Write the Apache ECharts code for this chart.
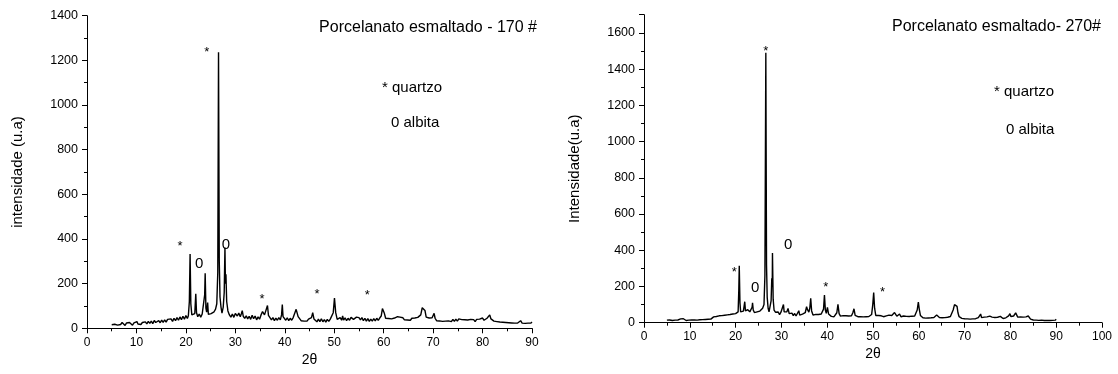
<!DOCTYPE html>
<html>
<head>
<meta charset="utf-8">
<script src="https://cdn.jsdelivr.net/npm/echarts@6/dist/echarts.min.js"></script>
<style>
html,body{margin:0;padding:0;background:#fff;}
#chart{width:1118px;height:374px;}
</style>
</head>
<body>
<div id="chart"></div>
<script>
// ---- Data ----
// Diffractogram, Porcelanato esmaltado - 170 #  : [2theta, intensity]
const pattern170 = [
[5.0,16],[5.3,24],[5.6,18],[5.9,25],[6.2,14],[6.5,22],[6.8,17],[7.1,26],[7.4,18],[7.7,13],[8.0,24],[8.3,17],[8.6,26],[8.9,19],[9.2,14],[9.5,24],[9.8,18],
[10.1,30],[10.3,19],[10.6,27],[10.9,17],[11.2,26],[11.5,19],[11.8,29],[12.1,20],[12.4,31],[12.7,22],[13.0,32],[13.3,21],[13.6,35],[13.9,26],[14.2,22],[14.5,34],[14.8,25],
[15.1,37],[15.4,27],[15.7,38],[16.0,28],[16.3,40],[16.5,48],[16.7,33],[17.0,42],[17.3,31],[17.6,45],[17.9,34],[18.2,48],[18.5,36],[18.8,51],[19.1,39],[19.4,54],[19.7,41],
[20.0,57],[20.3,44],[20.5,56],[20.7,120],[20.85,333],[21.0,110],[21.2,60],[21.5,52],[21.8,66],[22.0,155],[22.15,70],[22.4,52],[22.7,64],[23.0,50],[23.3,64],[23.6,62],
[23.8,150],[23.9,246],[24.05,90],[24.2,72],[24.4,115],[24.55,62],[24.8,54],[25.1,66],[25.4,60],[25.7,74],[26.0,86],[26.25,110],[26.45,250],[26.6,1236],[26.75,300],
[26.9,140],[27.1,95],[27.3,68],[27.55,95],[27.75,160],[27.9,362],[28.0,200],[28.1,242],[28.25,120],[28.5,78],[28.8,60],[29.1,50],[29.4,64],[29.7,49],
[30.0,66],[30.2,74],[30.4,55],[30.7,68],[31.0,52],[31.2,64],[31.4,79],[31.6,54],[31.9,44],[32.2,56],[32.5,42],[32.8,54],[33.1,40],[33.4,58],[33.7,43],[34.0,55],[34.3,38],
[34.6,51],[34.9,41],[35.2,60],[35.5,75],[35.7,80],[35.9,60],[36.2,55],[36.5,102],[36.7,58],[37.0,50],[37.3,38],[37.6,48],[37.9,34],[38.2,46],[38.5,36],[38.8,48],[39.1,38],
[39.35,60],[39.5,106],[39.65,52],[39.9,46],[40.2,36],[40.5,47],[40.8,34],[41.1,45],[41.4,36],[41.7,48],[42.0,55],[42.3,85],[42.45,91],[42.7,52],[43.0,44],[43.3,34],
[43.6,40],[43.9,32],[44.2,40],[44.5,32],[44.8,41],[45.1,36],[45.4,48],[45.65,70],[45.9,42],[46.2,38],[46.5,29],[46.8,41],[47.1,30],[47.4,43],[47.7,29],[48.0,39],
[48.3,28],[48.6,40],[48.9,31],[49.2,41],[49.5,45],[49.8,70],[50.05,135],[50.3,70],[50.6,40],[50.9,34],[51.2,48],[51.5,36],[51.7,55],[51.9,37],[52.2,47],[52.5,34],
[52.8,45],[53.1,36],[53.4,49],[53.7,55],[53.9,40],[54.2,37],[54.5,50],[54.75,58],[55.0,48],[55.3,38],[55.6,48],[55.9,34],[56.2,45],[56.5,32],[56.8,43],[57.1,31],
[57.4,41],[57.7,32],[58.0,43],[58.3,33],[58.6,45],[58.9,35],[59.2,46],[59.5,55],[59.75,88],[59.9,95],[60.1,70],[60.4,45],[60.7,38],[61.0,44],[61.3,36],[61.6,42],
[61.9,38],[62.2,46],[62.5,42],[62.8,52],[63.0,48],[63.3,50],[63.6,42],[63.9,47],[64.2,38],[64.5,46],[64.8,37],[65.1,44],[65.4,36],[65.7,45],[66.0,38],[66.3,46],
[66.6,40],[66.9,49],[67.2,50],[67.5,60],[67.8,92],[67.95,95],[68.15,93],[68.35,80],[68.6,50],[68.9,42],[69.2,46],[69.5,38],[69.8,47],[70.05,55],[70.2,67],[70.4,45],
[70.7,34],[71.0,40],[71.3,33],[71.6,39],[71.9,31],[72.2,38],[72.5,32],[72.8,40],[73.1,33],[73.4,39],[73.7,30],[74.0,40],[74.3,31],[74.6,41],[74.9,32],[75.2,42],
[75.5,34],[75.8,39],[76.1,31],[76.4,38],[76.7,30],[77.0,37],[77.3,31],[77.6,40],[77.9,32],[78.2,39],[78.5,30],[78.8,40],[79.1,33],[79.4,41],[79.7,38],[80.0,46],
[80.3,36],[80.6,40],[80.9,45],[81.2,52],[81.45,60],[81.7,42],[82.0,40],[82.3,32],[82.6,37],[82.9,30],[83.2,35],[83.5,28],[83.8,33],[84.1,27],[84.4,32],[84.7,26],
[85.0,31],[85.3,25],[85.6,30],[85.9,24],[86.2,29],[86.5,23],[86.8,30],[87.1,24],[87.4,28],[87.7,34],[88.0,23],[88.3,30],[88.6,22],[88.9,29],[89.2,23],[89.5,31],[89.8,24],[90.0,28]
];
// Diffractogram, Porcelanato esmaltado- 270#  : [2theta, intensity]
const pattern270 = [
[5.0,14],[5.3,22],[5.6,15],[5.9,21],[6.2,12],[6.5,20],[6.8,14],[7.1,23],[7.4,15],[7.7,12],[8.0,21],[8.3,13],[8.6,22],[8.9,15],[9.2,12],[9.5,21],[9.8,14],
[10.1,23],[10.4,15],[10.7,23],[11.0,15],[11.3,22],[11.6,14],[11.9,24],[12.2,16],[12.5,25],[12.8,17],[13.1,26],[13.4,18],[13.7,27],[14.0,19],[14.3,29],[14.6,20],[14.9,30],
[15.2,32],[15.5,23],[15.8,34],[16.1,26],[16.4,38],[16.55,46],[16.7,30],[17.0,39],[17.3,30],[17.6,41],[17.9,32],[18.2,43],[18.5,34],[18.8,45],[19.1,36],[19.4,48],[19.7,39],
[20.0,50],[20.3,42],[20.55,60],[20.7,180],[20.8,314],[20.95,110],[21.1,60],[21.4,52],[21.7,64],[22.0,116],[22.15,65],[22.4,55],[22.65,72],[22.9,83],[23.1,60],[23.4,64],
[23.6,85],[23.7,110],[23.85,70],[24.1,56],[24.4,48],[24.7,60],[25.0,52],[25.3,64],[25.6,62],[25.9,80],[26.2,100],[26.4,260],[26.6,1490],[26.75,320],[26.9,140],[27.1,80],
[27.3,60],[27.5,68],[27.75,120],[27.9,245],[28.0,200],[28.05,385],[28.2,130],[28.4,70],[28.7,58],[29.0,47],[29.3,59],[29.6,45],[29.9,58],[30.2,56],[30.45,100],[30.6,60],
[30.9,49],[31.2,60],[31.45,79],[31.7,50],[32.0,42],[32.3,53],[32.6,39],[32.9,51],[33.2,37],[33.5,48],[33.8,66],[34.0,42],[34.3,37],[34.6,47],[34.9,40],[35.2,55],[35.5,88],
[35.7,72],[36.0,58],[36.2,80],[36.4,134],[36.6,65],[36.9,42],[37.2,37],[37.5,46],[37.8,35],[38.1,45],[38.4,37],[38.7,48],[39.0,46],[39.2,75],[39.4,153],[39.6,70],[39.8,52],
[40.05,85],[40.3,48],[40.6,38],[40.9,35],[41.2,45],[41.5,33],[41.8,43],[42.1,55],[42.35,101],[42.6,50],[42.9,36],[43.2,31],[43.5,39],[43.8,29],[44.1,38],[44.4,28],[44.7,37],
[45.0,30],[45.3,38],[45.6,55],[45.85,77],[46.1,40],[46.4,29],[46.7,33],[47.0,27],[47.3,33],[47.6,26],[47.9,32],[48.2,27],[48.5,33],[48.8,28],[49.1,34],[49.4,31],[49.7,45],
[49.95,100],[50.15,167],[50.35,80],[50.6,40],[50.9,32],[51.2,40],[51.5,30],[51.8,38],[52.1,40],[52.3,33],[52.6,29],[52.9,38],[53.2,30],[53.5,42],[53.8,34],[54.1,40],
[54.4,45],[54.7,56],[54.95,50],[55.2,36],[55.5,44],[55.8,48],[56.1,33],[56.4,29],[56.7,37],[57.0,27],[57.3,35],[57.6,26],[57.9,34],[58.2,27],[58.5,36],[58.8,28],[59.1,37],
[59.4,40],[59.65,70],[59.9,114],[60.1,75],[60.35,40],[60.6,31],[60.9,27],[61.2,36],[61.5,25],[61.8,34],[62.1,26],[62.4,35],[62.7,27],[63.0,37],[63.3,29],[63.6,40],[63.9,42],
[64.2,32],[64.5,29],[64.8,38],[65.1,27],[65.4,36],[65.7,28],[66.0,37],[66.3,30],[66.6,40],[66.9,34],[67.2,45],[67.5,70],[67.8,100],[67.95,107],[68.15,104],[68.35,90],
[68.55,55],[68.8,33],[69.1,27],[69.4,24],[69.7,31],[70.0,22],[70.3,30],[70.6,21],[70.9,29],[71.2,20],[71.5,28],[71.8,21],[72.1,30],[72.4,22],[72.7,29],[73.0,28],[73.3,35],
[73.5,48],[73.7,28],[74.0,24],[74.3,31],[74.6,23],[74.9,32],[75.2,30],[75.5,36],[75.8,44],[76.0,31],[76.3,25],[76.6,29],[76.9,24],[77.2,30],[77.5,26],[77.8,35],[78.1,25],
[78.4,23],[78.7,30],[79.0,27],[79.3,35],[79.6,38],[79.9,50],[80.1,34],[80.4,28],[80.7,37],[80.9,42],[81.15,54],[81.35,45],[81.6,31],[81.9,26],[82.2,32],[82.5,24],[82.8,31],
[83.1,25],[83.4,32],[83.7,31],[83.9,37],[84.1,26],[84.4,20],[84.7,23],[85.0,15],[85.3,22],[85.6,14],[85.9,21],[86.2,13],[86.5,22],[86.8,14],[87.1,21],[87.4,12],[87.7,20],
[88.0,13],[88.3,21],[88.6,12],[88.9,20],[89.2,13],[89.5,21],[89.8,14],[90.0,19]
];
// Peak markers [2theta, intensity where the marker sits]
const quartz170 = [[18.8,382],[24.2,1247],[35.4,145],[46.5,167],[56.7,161]];
const albite170 = [[22.7,288],[28.1,373]];
const quartz270 = [[19.7,294],[26.6,1515],[39.7,212],[52.1,184]];
const albite270 = [[24.3,190],[31.5,432]];
// Text
const titles = ['Porcelanato esmaltado - 170 #', 'Porcelanato esmaltado- 270#'];
const legendTexts = ['* quartzo', '0 albita'];
const yNames = ['intensidade (u.a)', 'Intensidade(u.a)'];
const xName = '2\u03b8';

const FONT = '"Liberation Sans", Arial, sans-serif';
const chart = echarts.init(document.getElementById('chart'), null, {renderer: 'canvas'});

function xAxisCfg(grid, max) {
  return {
    type: 'value', gridIndex: grid, min: 0, max: max, interval: 10,
    name: xName, nameLocation: 'middle', nameGap: grid === 0 ? 22 : 19,
    nameTextStyle: {color: '#000', fontSize: 14, fontFamily: FONT},
    axisLine: {show: true, onZero: false, lineStyle: {color: '#000', width: 1}},
    axisTick: {show: true, inside: false, length: 5, lineStyle: {color: '#000'}},
    minorTick: {show: true, splitNumber: 2, length: 3, lineStyle: {color: '#000'}},
    axisLabel: {color: '#000', fontSize: 12, fontFamily: FONT, margin: 8, formatter: v => String(v)},
    splitLine: {show: false}, minorSplitLine: {show: false}
  };
}
function yAxisCfg(grid, max, name, gap) {
  return {
    type: 'value', gridIndex: grid, min: 0, max: max, interval: 200,
    name: name, nameLocation: 'middle', nameGap: gap, nameRotate: 90,
    nameTextStyle: {color: '#000', fontSize: 15, fontFamily: FONT},
    axisLine: {show: true, onZero: false, lineStyle: {color: '#000', width: 1}},
    axisTick: {show: true, inside: false, length: 5, lineStyle: {color: '#000'}},
    minorTick: {show: true, splitNumber: 2, length: 3, lineStyle: {color: '#000'}},
    axisLabel: {color: '#000', fontSize: 12.5, fontFamily: FONT, margin: 9, showMaxLabel: grid === 0,
                formatter: v => String(v)},
    splitLine: {show: false}, minorSplitLine: {show: false}
  };
}
function lineSeries(idx, data) {
  return {
    type: 'line', xAxisIndex: idx, yAxisIndex: idx, data: data,
    showSymbol: false, symbol: 'none', smooth: false,
    lineStyle: {color: '#000', width: 1.4}, silent: true, z: 2
  };
}
function markSeries(idx, data, text, size, dy) {
  return {
    type: 'scatter', xAxisIndex: idx, yAxisIndex: idx, data: data,
    symbolSize: 1, itemStyle: {color: 'rgba(0,0,0,0)', opacity: 1}, silent: true, z: 3,
    label: {show: true, position: 'inside', formatter: text, color: '#000',
            fontSize: size, fontFamily: FONT, offset: [0, dy]}
  };
}
function txt(x, y, t, size, align) {
  return {type: 'text', x: x, y: y, silent: true,
          style: {text: t, fill: '#000', font: size + 'px ' + FONT, align: align, verticalAlign: 'middle'}};
}

chart.setOption({
  animation: false,
  backgroundColor: '#fff',
  grid: [
    {left: 87, right: 586, top: 15.7, bottom: 45.7, containLabel: false},
    {left: 644, right: 16, top: 14.7, bottom: 51.3, containLabel: false}
  ],
  xAxis: [xAxisCfg(0, 90), xAxisCfg(1, 100)],
  yAxis: [yAxisCfg(0, 1400, yNames[0], 62), yAxisCfg(1, 1700, yNames[1], 62)],
  series: [
    lineSeries(0, pattern170),
    lineSeries(1, pattern270),
    markSeries(0, quartz170, '*', 13, 3),
    markSeries(0, albite170, '0', 15, 0),
    markSeries(1, quartz270, '*', 13, 3),
    markSeries(1, albite270, '0', 15, 0)
  ],
  graphic: [
    txt(537, 28, titles[0], 16, 'right'),
    txt(382, 88, legendTexts[0], 15, 'left'),
    txt(391, 123, legendTexts[1], 15, 'left'),
    txt(1101, 27, titles[1], 16, 'right'),
    txt(994, 92, legendTexts[0], 15, 'left'),
    txt(1006, 130, legendTexts[1], 15, 'left')
  ]
});
</script>
</body>
</html>
